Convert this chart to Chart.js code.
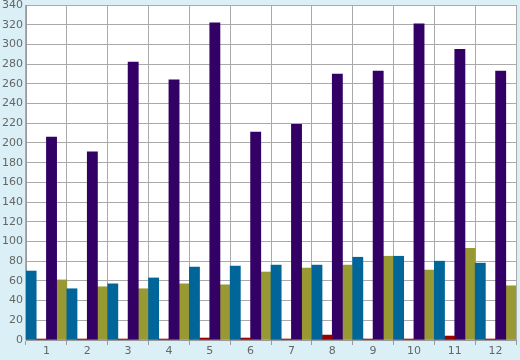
<!DOCTYPE html>
<html><head><meta charset="utf-8">
<script src="https://cdn.jsdelivr.net/npm/chart.js@4/dist/chart.umd.min.js"></script>
<style>html,body{margin:0;padding:0;background:#daeff6}#w{width:520px;height:360px}</style>
</head><body><div id="w"><canvas id="c"></canvas></div>
<script>
const categories = ["1","2","3","4","5","6","7","8","9","10","11","12"];
const seriesBlue   = [70, 52, 57, 63, 74, 75, 76, 76, 84, 85, 80, 78];
const seriesRed    = [1, 1, 1, 1, 2, 2, 1, 5, 1, 1, 4, 1];
const seriesPurple = [206, 191, 282, 264, 322, 211, 219, 270, 273, 321, 295, 273];
const seriesOlive  = [61, 54, 52, 57, 56, 69, 73, 76, 85, 71, 93, 55];
const yTicks = {min: 0, max: 340, step: 20};

const bg = {
  id: 'bg',
  beforeDraw(chart) {
    const {ctx, chartArea: a} = chart;
    ctx.save();
    ctx.fillStyle = '#daeff6';
    ctx.fillRect(0, 0, chart.width, chart.height);
    ctx.fillStyle = '#ffffff';
    ctx.fillRect(a.left, a.top, a.right - a.left, a.bottom - a.top);
    ctx.restore();
  }
};

new Chart(document.getElementById('c'), {
  type: 'bar',
  data: {
    labels: categories,
    datasets: [
      {data: seriesBlue, backgroundColor: '#006699'},
      {data: seriesRed, backgroundColor: '#990000'},
      {data: seriesPurple, backgroundColor: '#330066'},
      {data: seriesOlive, backgroundColor: '#999933'}
    ]
  },
  options: {
    responsive: true, maintainAspectRatio: false, animation: false,
    devicePixelRatio: 1,
    layout: {padding: {top: 0, right: 4, left: 0, bottom: 0}},
    plugins: {legend: {display: false}, tooltip: {enabled: false}},
    datasets: {bar: {barPercentage: 1, categoryPercentage: 1, borderWidth: 0}},
    scales: {
      x: {
        grid: {color: '#aaaaaa', lineWidth: 1, offset: true, drawTicks: true, tickLength: 5, tickColor: '#999999'},
        border: {color: '#999999'},
        ticks: {color: '#666666', font: {family: 'DejaVu Sans', size: 11}, padding: 0, maxRotation: 0},
        afterFit(s) { s.height = 20; }
      },
      y: {
        min: yTicks.min, max: yTicks.max,
        grid: {color: '#aaaaaa', lineWidth: 1, drawTicks: false},
        border: {color: '#999999'},
        ticks: {stepSize: yTicks.step, color: '#666666', font: {family: 'DejaVu Sans', size: 11}, padding: 3},
        afterFit(s) { s.width = 26; s.paddingTop = 5; }
      }
    }
  },
  plugins: [bg]
});
</script></body></html>
